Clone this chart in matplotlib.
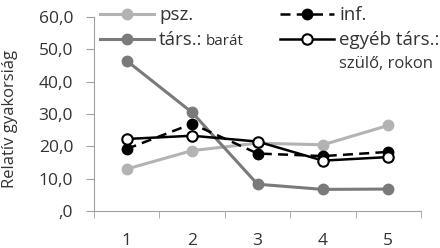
import numpy as np
import matplotlib.pyplot as plt

plt.rcParams['font.family'] = ['Open Sans', 'DejaVu Sans']

# Adatok
kategoriak = [1, 2, 3, 4, 5]
psz = [13.0, 18.7, 21.0, 20.5, 26.5]
tars_barat = [46.5, 30.5, 8.3, 6.7, 6.8]
inf = [19.2, 27.0, 17.8, 17.0, 18.3]
egyeb = [22.3, 23.3, 21.5, 15.6, 16.7]
y_ticks = [0, 10, 20, 30, 40, 50, 60]

fig = plt.figure(figsize=(4.4, 2.48), dpi=100)
ax = fig.add_axes([0.2136, 0.149, 0.7434, 0.782])

l1, = ax.plot(kategoriak, psz, color='#b3b3b3', lw=2.2, marker='o', ms=7.5)
l2, = ax.plot(kategoriak, tars_barat, color='#7a7a7a', lw=2.2, marker='o', ms=7.5)
l3, = ax.plot(kategoriak, inf, color='black', lw=1.8, ls=(0, (4, 2.5)), marker='o', ms=7.5)
l4, = ax.plot(kategoriak, egyeb, color='black', lw=1.8, marker='o', ms=7.5, mfc='white',
              mec='black', mew=1.5)

ax.set_xlim(0.5, 5.5)
ax.set_ylim(0, 60)
ax.set_xticks(kategoriak)
ax.set_xticks(np.arange(0.5, 5.6, 1), minor=True)
ax.tick_params(axis='x', which='major', length=0, pad=16, labelsize=12.5, colors='#333333')
ax.tick_params(axis='x', which='minor', length=5, color='#a0a0a0')
ax.set_yticks(y_ticks)
ax.set_yticklabels([',0' if v == 0 else f'{v:.1f}'.replace('.', ',') for v in y_ticks])
ax.tick_params(axis='y', length=6, color='#a0a0a0', labelsize=12.5, colors='#333333', pad=9)
for s in ['top', 'right']:
    ax.spines[s].set_visible(False)
for s in ['left', 'bottom']:
    ax.spines[s].set_color('#a0a0a0')
ax.set_ylabel('Relatív gyakorsiág', fontsize=12, color='#333333')
ax.yaxis.set_label_coords(-0.232, 0.474)

# jelmagyarázat két oszlopban
opts = dict(loc='upper left', frameon=False, fontsize=13.5, handlelength=2.9,
            labelspacing=0.38, handletextpad=0.25, borderpad=0, borderaxespad=0,
            labelcolor='#333333', bbox_transform=fig.transFigure)
leg1 = ax.legend([l1, l2], ['psz.', 'társ.:'], bbox_to_anchor=(100 / 440, 0.975), **opts)
ax.add_artist(leg1)
leg2 = ax.legend([l3, l4], ['inf.', 'egyéb társ.:'], bbox_to_anchor=(280 / 440, 0.975), **opts)

# kiegészítő (kisebb) feliratok
fig.canvas.draw()
r = fig.canvas.get_renderer()
inv = fig.transFigure.inverted()
bb = leg1.get_texts()[1].get_window_extent(r)
x0, y0 = inv.transform((bb.x1 + 3, bb.y0 + 4))
fig.text(x0, y0, 'barát', fontsize=11, color='#333333', va='baseline')
bb2 = leg2.get_texts()[1].get_window_extent(r)
x1, y1 = inv.transform((bb2.x0, bb2.y0 - 19))
fig.text(x1, y1, 'szülő, rokon', fontsize=12, color='#333333', va='baseline')

fig.savefig('out.png', dpi=100)
